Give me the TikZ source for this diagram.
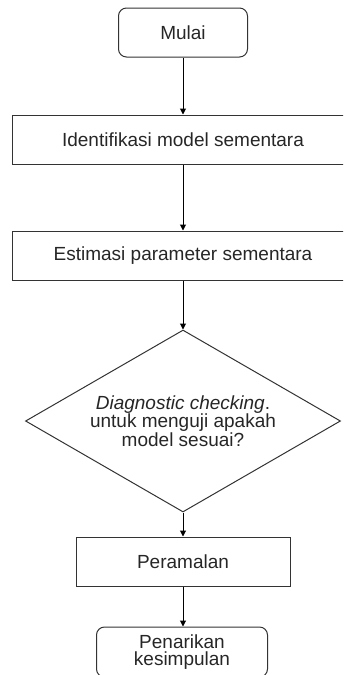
\documentclass[tikz,border=0pt]{standalone}
\usepackage{fontspec}
\setmainfont{Liberation Sans}
\usetikzlibrary{shapes.geometric,arrows.meta}
\begin{document}
\begin{tikzpicture}[x=1pt,y=-1pt,
  every node/.style={font=\fontsize{19}{17.5}\selectfont, text=black!85, inner sep=0pt},
  procbox/.style={draw=black!80, line width=1pt, rectangle, minimum height=49pt, align=center},
  roundbox/.style={procbox, rounded corners=8pt},
  decide/.style={draw=black!80, line width=1pt, diamond, minimum width=315pt, minimum height=182pt, shape aspect=1.73, align=center},
  arr/.style={draw=black, line width=1pt, -{Triangle[length=6pt,width=6pt]}}]
\useasboundingbox (0,0) rectangle (343,675);
\clip (0,0) rectangle (343,675);
\node[roundbox, minimum width=129pt] (mulai) at (183,32.5) {Mulai};
\node[procbox, minimum width=342pt] (ident) at (183,139.5) {Identifikasi model sementara};
\node[procbox, minimum width=342pt] (estim) at (183,255.5) {Estimasi parameter sementara};
\node[decide] (diag) at (183,421) {\textit{Diagnostic checking}.\\untuk menguji apakah\\model sesuai?};
\node[procbox, minimum width=214pt] (ramal) at (183,561.5) {Peramalan};
\node[roundbox, minimum width=171pt, minimum height=50pt] (tarik) at (182,652) {Penarikan\\kesimpulan};
\draw[arr] (mulai.south) -- (ident.north);
\draw[arr] (ident.south) -- (estim.north);
\draw[arr] (estim.south) -- (diag.north);
\draw[arr] (diag.south) -- (ramal.north);
\draw[arr] (ramal.south) -- (tarik.north -| ramal.south);
\end{tikzpicture}
\end{document}
